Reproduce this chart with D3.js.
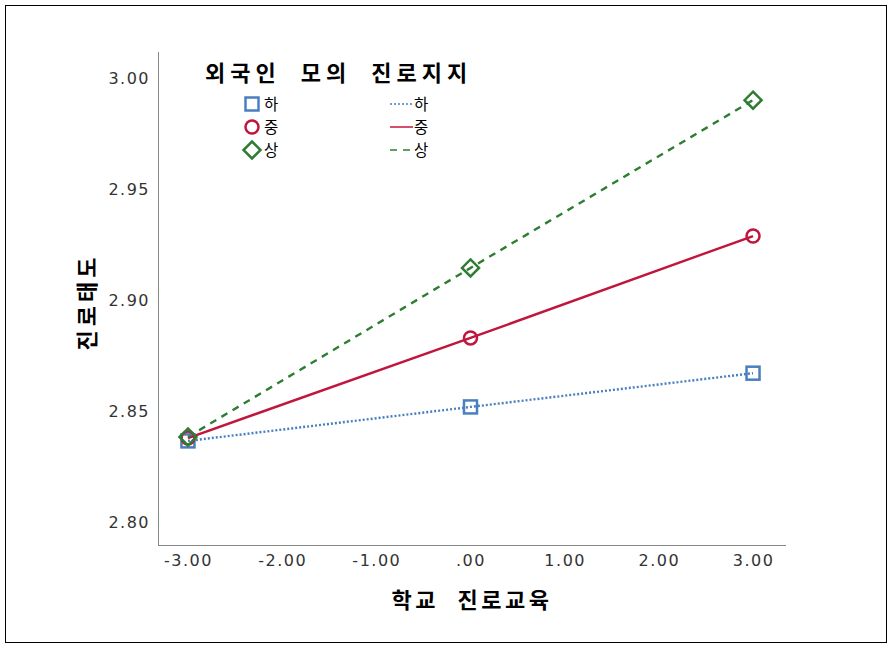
<!DOCTYPE html>
<html>
<head>
<meta charset="utf-8">
<script src="https://d3js.org/d3.v7.min.js"></script>
<style>
  body { margin: 0; background: #fff; }
</style>
</head>
<body>
<div class="chart"></div>
<script>
var svgWidth = 893;
var svgHeight = 650;

// data
var xValues = [-3, 0, 3];
var groups = ["하", "중", "상"];
var lowValues = [2.8365, 2.8518, 2.8670];
var midValues = [2.8378, 2.8829, 2.9288];
var highValues = [2.8383, 2.9144, 2.9900];
var xTicks = [-3, -2, -1, 0, 1, 2, 3];
var yTicks = [2.80, 2.85, 2.90, 2.95, 3.00];

var colors = ["#4a7fbf", "#c0163e", "#2e7d32"];
var dashes = ["2,2", null, "7,6"];
var shapes = ["square", "circle", "diamond"];

var korFont = "'Noto Sans CJK KR', 'DejaVu Sans', sans-serif";
var numFont = "'DejaVu Sans', sans-serif";

var series = [lowValues, midValues, highValues].map(function(vals, i) {
  return {
    name: groups[i],
    color: colors[i],
    dash: dashes[i],
    shape: shapes[i],
    points: xValues.map(function(x, j) { return {x: x, y: vals[j]}; })
  };
});

var svg = d3.select(".chart")
  .append("svg")
  .attr("width", svgWidth)
  .attr("height", svgHeight)
  .style("font-family", korFont);

// outer frame
svg.append("rect")
  .attr("x", 5.5).attr("y", 5.5)
  .attr("width", 881).attr("height", 637)
  .attr("fill", "none").attr("stroke", "#000").attr("stroke-width", 1);

var x = d3.scaleLinear().domain([-3.318, 3.35]).range([158, 786]);
var y = d3.scaleLinear().domain([2.7896, 3.0117]).range([545, 52]);

// axis lines
svg.append("line")
  .attr("x1", 158.5).attr("x2", 158.5).attr("y1", 52).attr("y2", 545.5)
  .attr("stroke", "#888");
svg.append("line")
  .attr("x1", 158).attr("x2", 786).attr("y1", 545.5).attr("y2", 545.5)
  .attr("stroke", "#888");

var xAxis = d3.axisBottom(x).tickValues(xTicks).tickSize(0).tickPadding(10)
  .tickFormat(function(d) { return d === 0 ? ".00" : d3.format(".2f")(d).replace("−", "-"); });
var gx = svg.append("g").attr("transform", "translate(0,545)").call(xAxis);
gx.select(".domain").remove();
gx.selectAll("text")
  .style("font-family", numFont).style("font-size", "16px")
  .style("letter-spacing", "1.5px").attr("fill", "#333");

var yAxis = d3.axisLeft(y).tickValues(yTicks).tickSize(0).tickPadding(8)
  .tickFormat(d3.format(".2f"));
var gy = svg.append("g").attr("transform", "translate(158,0)").call(yAxis);
gy.select(".domain").remove();
gy.selectAll("text")
  .style("font-family", numFont).style("font-size", "16px")
  .style("letter-spacing", "1.5px").attr("fill", "#333");

// axis titles
svg.append("text")
  .attr("x", 472).attr("y", 608)
  .attr("text-anchor", "middle")
  .style("font-size", "22px").style("font-weight", "bold")
  .style("letter-spacing", "3.5px").style("word-spacing", "10px")
  .text("학교 진로교육");

svg.append("text")
  .attr("transform", "translate(95,302) rotate(-90)")
  .attr("text-anchor", "middle")
  .style("font-size", "22px").style("font-weight", "bold")
  .style("letter-spacing", "4px")
  .text("진로태도");

// lines
var lineFunc = d3.line()
  .x(function(d) { return x(d.x); })
  .y(function(d) { return y(d.y); });

series.forEach(function(s) {
  svg.append("path")
    .attr("d", lineFunc(s.points))
    .attr("fill", "none")
    .attr("stroke", s.color)
    .attr("stroke-width", 2.4)
    .attr("stroke-dasharray", s.dash);
});

function drawMarker(g, shape, cx, cy, color) {
  if (shape === "square") {
    g.append("rect").attr("x", cx - 6.5).attr("y", cy - 6.5).attr("width", 13).attr("height", 13)
      .attr("fill", "none").attr("stroke", color).attr("stroke-width", 2.5);
  } else if (shape === "circle") {
    g.append("circle").attr("cx", cx).attr("cy", cy).attr("r", 6.5)
      .attr("fill", "none").attr("stroke", color).attr("stroke-width", 2.5);
  } else {
    g.append("path")
      .attr("d", "M" + cx + "," + (cy - 8.5) + "L" + (cx + 8.5) + "," + cy + "L" + cx + "," + (cy + 8.5) + "L" + (cx - 8.5) + "," + cy + "Z")
      .attr("fill", "none").attr("stroke", color).attr("stroke-width", 2.5);
  }
}

series.forEach(function(s) {
  s.points.forEach(function(p) {
    drawMarker(svg, s.shape, x(p.x), y(p.y), s.color);
  });
});

// legend
var legend = svg.append("g");
legend.append("text")
  .attr("x", 205).attr("y", 81)
  .style("font-size", "22px").style("font-weight", "bold")
  .style("letter-spacing", "5px").style("word-spacing", "10px")
  .text("외국인 모의 진로지지");

series.forEach(function(s, i) {
  var ly = 104 + i * 23;
  drawMarker(legend, s.shape, 252, ly, s.color);
  legend.append("text")
    .attr("x", 264).attr("y", ly + 6)
    .style("font-size", "15.5px")
    .text(s.name);
  legend.append("line")
    .attr("x1", 390).attr("x2", 413).attr("y1", ly).attr("y2", ly)
    .attr("stroke", s.color).attr("stroke-width", 1.5)
    .attr("stroke-dasharray", s.dash);
  legend.append("text")
    .attr("x", 414).attr("y", ly + 6)
    .style("font-size", "15.5px")
    .text(s.name);
});
</script>
</body>
</html>
